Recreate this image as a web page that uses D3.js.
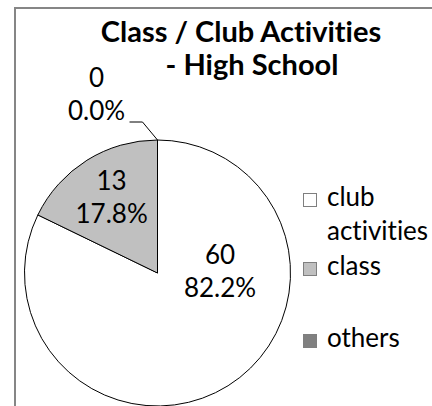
<!DOCTYPE html>
<html>
<head>
<meta charset="utf-8">
<script src="https://cdn.jsdelivr.net/npm/d3@7/dist/d3.min.js"></script>
<style>
  body { margin: 0; background: #fff; }
  svg { display: block; }
  text { font-family: Lato, "Open Sans", sans-serif; fill: #000; font-variant-ligatures: none; }
</style>
</head>
<body>
<div id="chart"></div>
<script>
var width = 432;
var height = 406;

// chart data
var categories = ["club activities", "class", "others"];
var counts = [60, 13, 0];
var sliceColors = ["#ffffff", "#c0c0c0", "#808080"];
var titleLines = ["Class / Club Activities", "- High School"];
// legend text, wrapped the way the original wraps it
var legendLines = [["club", "activities"], ["class"], ["others"]];

var total = d3.sum(counts);
var pct = d3.format(".1%");

var svg = d3.select("#chart")
  .append("svg")
  .attr("width", width)
  .attr("height", height);

// chart area border (runs off the right and bottom edge)
svg.append("rect")
  .attr("x", 15)
  .attr("y", 8)
  .attr("width", 600)
  .attr("height", 600)
  .attr("fill", "#fff")
  .attr("stroke", "#868686")
  .attr("stroke-width", 2);

// title
svg.append("text")
  .attr("x", 241)
  .attr("y", 42)
  .attr("text-anchor", "middle")
  .style("font-weight", "bold")
  .style("font-size", "29px")
  .text(titleLines[0]);
svg.append("text")
  .attr("x", 252)
  .attr("y", 75)
  .attr("text-anchor", "middle")
  .style("font-weight", "bold")
  .style("font-size", "29px")
  .text(titleLines[1]);

// pie
var cx = 157.5, cy = 273, radius = 133;
var data = categories.map(function(c, i) {
  return { name: c, value: counts[i], color: sliceColors[i] };
});

var pie = d3.pie()
  .sort(null)
  .value(function(d) { return d.value; });

var arc = d3.arc().innerRadius(0).outerRadius(radius);
var arcs = pie(data);

var g = svg.append("g")
  .attr("transform", "translate(" + cx + "," + cy + ")");

g.selectAll("path.slice")
  .data(arcs.filter(function(d) { return d.value > 0; }))
  .enter().append("path")
  .attr("class", "slice")
  .attr("d", arc)
  .attr("fill", function(d) { return d.data.color; })
  .attr("stroke", "#000")
  .attr("stroke-width", 1);

// data labels: value on first line, percent on the second
var lineGap = 33;
function labelText(sel, d) {
  sel.append("tspan").attr("x", 0).attr("dy", 0).text(d.value);
  sel.append("tspan").attr("x", 0).attr("dy", lineGap).text(pct(d.value / total));
}

arcs.forEach(function(d) {
  var p;
  if (d.value === 0) {
    // zero slice: label pulled outside with a leader line
    var a = d.startAngle;
    var p0 = [Math.sin(a) * radius, -Math.cos(a) * radius];
    var p1 = [p0[0] - 15, p0[1] - 18];
    var p2 = [p1[0] - 13, p1[1]];
    g.append("path")
      .attr("d", d3.line()([p0, p1, p2]))
      .attr("fill", "none")
      .attr("stroke", "#000")
      .attr("stroke-width", 1);
    p = [p2[0] - 33, p2[1] - 35];
  } else if (d.endAngle - d.startAngle > Math.PI) {
    // big slice: best fit puts it to the right of centre
    var r1 = radius * 0.47;
    p = [r1, -9];
  } else {
    var la = (d.startAngle + d.endAngle) / 2;
    var r2 = radius * 0.65;
    p = [Math.sin(la) * r2, -Math.cos(la) * r2 - 10];
  }
  var t = g.append("text")
    .attr("transform", "translate(" + p[0] + "," + p[1] + ")")
    .attr("text-anchor", "middle")
    .style("font-size", "26px");
  labelText(t, d);
});

// legend
var legend = svg.append("g").attr("transform", "translate(303,0)");
var rowY = [200, 269, 341];
data.forEach(function(d, i) {
  var row = legend.append("g").attr("transform", "translate(0," + rowY[i] + ")");
  row.append("rect")
    .attr("x", 0.5)
    .attr("y", -6.5)
    .attr("width", 13)
    .attr("height", 13)
    .attr("fill", d.color)
    .attr("stroke", "#7f7f7f")
    .attr("stroke-width", 1);
  var t = row.append("text")
    .attr("x", 24)
    .attr("y", 6)
    .style("font-size", "26px");
  legendLines[i].forEach(function(line, j) {
    t.append("tspan").attr("x", 24).attr("dy", j === 0 ? 0 : 34).text(line);
  });
});
</script>
</body>
</html>
